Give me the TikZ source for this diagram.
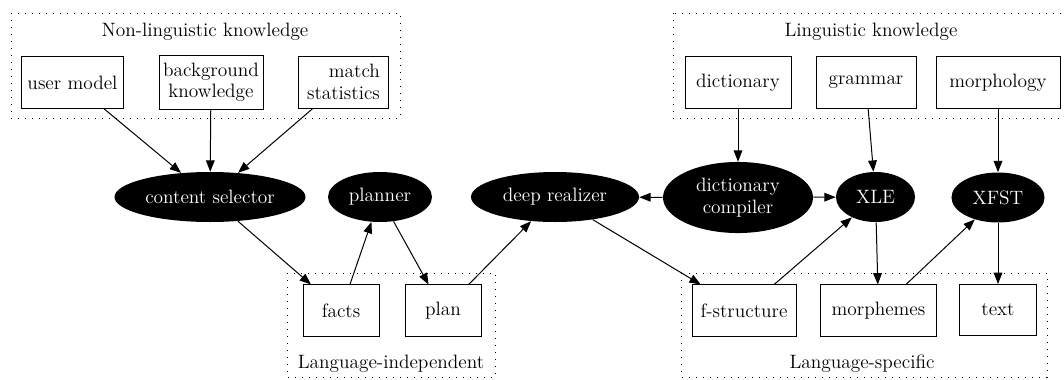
\documentclass[tikz,border=0pt]{standalone}
\usetikzlibrary{shapes.geometric,arrows.meta}
\tikzset{
  box/.style={draw,line width=0.75pt,inner sep=0pt,align=center,
    minimum height=38.3pt},
  proc/.style={ellipse,fill=black,text=white,inner sep=0pt,align=center,
    minimum height=37.5pt},
  cluster/.style={draw,line width=0.75pt,dash pattern=on 0.75pt off 4.5pt},
  link/.style={-{Triangle[length=8.5pt,width=6.5pt]},line width=0.75pt},
}
\begin{document}
\begin{tikzpicture}[x=0.75pt,y=-0.75pt,font=\fontsize{14.5}{16}\selectfont]
\useasboundingbox (0,0) rectangle (1064,379);
% clusters
\draw[cluster] (11,13) rectangle (400,118);
\draw[cluster] (673,13) rectangle (1070,118);
\draw[cluster] (287,273) rectangle (495,377);
\draw[cluster] (681,273) rectangle (1047,377);
\node (nonling) at (205,32) {Non-linguistic knowledge};
\node (ling) at (871,32) {Linguistic knowledge};
\node (langind) at (391,364) {Language-independent};
\node (langspec) at (862,364) {Language-specific};
% knowledge sources
\node[box,minimum width=75.8pt] (usermodel) at (72.5,82.5) {user model};
\node[box,minimum width=78pt,minimum height=39.8pt] (bgknow) at (211,82.5) {background\\knowledge};
\node[box,minimum width=66.8pt,minimum height=39pt,align=right] (matchstat) at (343.5,82) {match\\statistics};
\node[box,minimum width=79.5pt] (dictionary) at (738,82.5) {dictionary};
\node[box,minimum width=75pt] (grammar) at (866,82.5) {grammar};
\node[box,minimum width=93pt] (morphology) at (998,82.5) {morphology};
% processes
\node[proc,minimum width=143.3pt] (content) at (210,197) {content selector};
\node[proc,minimum width=78pt] (planner) at (380,197) {planner};
\node[proc,minimum width=126pt] (deep) at (555,197) {deep realizer};
\node[proc,minimum width=112.5pt,minimum height=53.3pt] (dictcomp) at (738,197.5) {dictionary\\compiler};
\node[proc,minimum width=59.3pt] (xle) at (875.5,197) {XLE};
\node[proc,minimum width=69.8pt] (xfst) at (998,197.5) {XFST};
% data
\node[box,minimum width=57pt] (facts) at (341,310.5) {facts};
\node[box,minimum width=57pt] (plan) at (443,310.5) {plan};
\node[box,minimum width=78pt] (fstruct) at (744,310.5) {f-structure};
\node[box,minimum width=86.3pt] (morphemes) at (878.5,310.5) {morphemes};
\node[box,minimum width=57.8pt] (text) at (998,310) {text};
% edges
\draw[link] (usermodel) -- (content);
\draw[link] (bgknow) -- (content);
\draw[link] (matchstat) -- (content);
\draw[link] (content) -- (facts);
\draw[link] (facts) -- (planner);
\draw[link] (planner) -- (plan);
\draw[link] (plan) -- (deep);
\draw[link] (deep) -- (fstruct);
\draw[link] (dictionary) -- (dictcomp);
\draw[link] (dictcomp) -- (deep);
\draw[link] (dictcomp) -- (xle);
\draw[link] (grammar) -- (xle);
\draw[link] (fstruct) -- (xle);
\draw[link] (xle) -- (morphemes);
\draw[link] (morphology) -- (xfst);
\draw[link] (morphemes) -- (xfst);
\draw[link] (xfst) -- (text);
\end{tikzpicture}
\end{document}
